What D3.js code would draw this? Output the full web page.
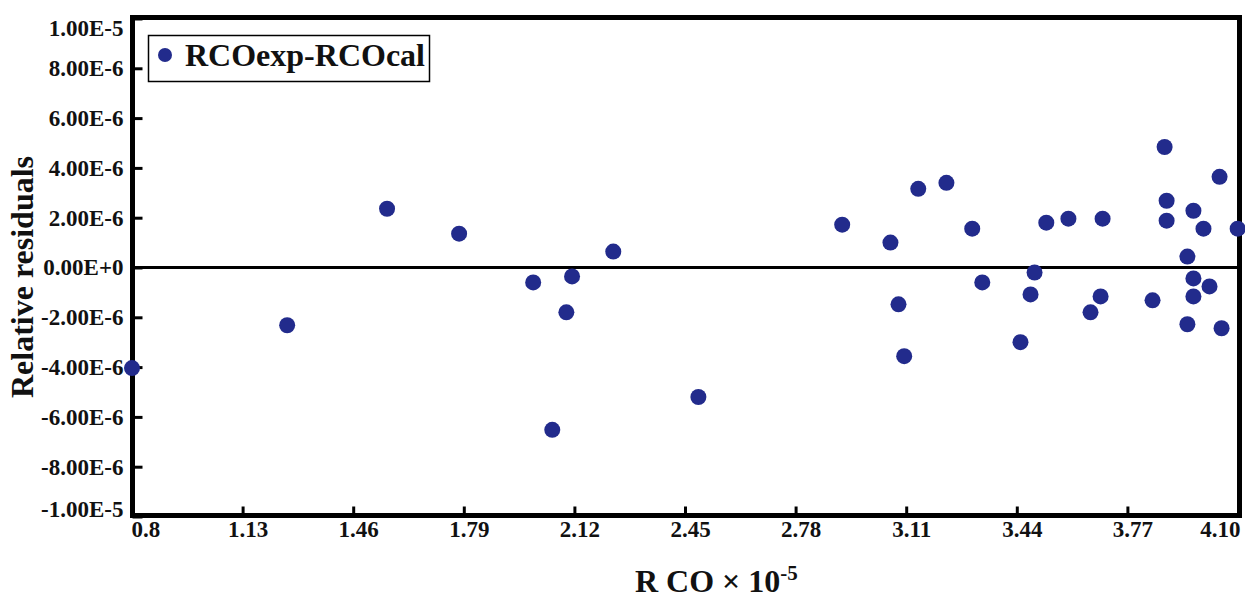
<!DOCTYPE html>
<html>
<head>
<meta charset="utf-8">
<script src="https://cdn.jsdelivr.net/npm/d3@7"></script>
<style>
  body { margin: 0; background: #fff; }
  svg text { font-family: "Liberation Serif", "Times New Roman", serif; font-weight: bold; fill: #111; }
</style>
</head>
<body>
<div class="chart"></div>
<script>
// R CO (x 10^-5) against relative residual (RCOexp - RCOcal)
var rco = [0.80, 1.263, 1.561, 1.776, 1.997, 2.054, 2.096, 2.113, 2.236, 2.49,
           2.919, 3.063, 3.087, 3.104, 3.146, 3.23, 3.307, 3.337, 3.451, 3.481,
           3.493, 3.528, 3.594, 3.66, 3.69, 3.696, 3.845, 3.881, 3.887, 3.887,
           3.949, 3.949, 3.967, 3.967, 3.967, 3.997, 4.015, 4.045, 4.051, 4.099]
var residual = [-4.04, -2.32, 2.36, 1.36, -0.6, -6.52, -1.8, -0.36, 0.64, -5.2,
                1.72, 1.0, -1.48, -3.56, 3.16, 3.4, 1.56, -0.6, -3.0, -1.08,
                -0.2, 1.8, 1.96, -1.8, -1.16, 1.96, -1.32, 4.84, 2.68, 1.88,
                0.44, -2.28, 2.28, -0.44, -1.16, 1.56, -0.76, 3.64, -2.44, 1.56].map(v => v * 1e-6)

var xTicks = [0.8, 1.13, 1.46, 1.79, 2.12, 2.45, 2.78, 3.11, 3.44, 3.77, 4.10]
var xTickLabels = ['0.8', '1.13', '1.46', '1.79', '2.12', '2.45', '2.78', '3.11', '3.44', '3.77', '4.10']
var yTicks = [1e-5, 8e-6, 6e-6, 4e-6, 2e-6, 0, -2e-6, -4e-6, -6e-6, -8e-6, -1e-5]
var yTickLabels = ['1.00E-5', '8.00E-6', '6.00E-6', '4.00E-6', '2.00E-6', '0.00E+0',
                   '-2.00E-6', '-4.00E-6', '-6.00E-6', '-8.00E-6', '-1.00E-5']
var seriesName = 'RCOexp-RCOcal'

let W = 1245, H = 598
let plot = {left: 132.5, right: 1239.5, top: 17.5, bottom: 515.5}
let dotColor = '#222b8c'

var svg = d3.select('.chart').append('svg')
    .attr('width', W)
    .attr('height', H)
    .attr('viewBox', [0, 0, W, H])

var x = d3.scaleLinear().domain([0.8, 4.1]).range([132, 1238])
var y = d3.scaleLinear().domain([-1e-5, 1e-5]).range([516.5, 18.5])

// x axis, ticks pointing up into the plot
var xAxis = svg.append('g')
    .attr('transform', 'translate(0,' + plot.bottom + ')')
    .call(d3.axisBottom(x)
        .tickValues(xTicks)
        .tickSize(-9)
        .tickPadding(5)
        .tickFormat((d, i) => xTickLabels[i]))
xAxis.select('.domain').remove()
xAxis.selectAll('.tick line').attr('stroke', '#000').attr('stroke-width', 3)
xAxis.selectAll('.tick text')
    .style('font-size', '23px')
    .attr('dx', 5)
    .attr('text-anchor', 'middle')
xAxis.selectAll('.tick').filter((d, i) => i == 0).select('text').attr('text-anchor', 'start').attr('dx', -1)
xAxis.selectAll('.tick').filter((d, i) => i == xTicks.length - 1).select('text').attr('text-anchor', 'end').attr('dx', 2)
xAxis.selectAll('.tick').filter((d, i) => i == 0 || i == xTicks.length - 1).select('line').remove()

// y axis, ticks pointing right
var yAxis = svg.append('g')
    .attr('transform', 'translate(' + plot.left + ',0)')
    .call(d3.axisLeft(y)
        .tickValues(yTicks)
        .tickSize(-10)
        .tickPadding(9)
        .tickFormat((d, i) => yTickLabels[i]))
yAxis.select('.domain').remove()
yAxis.selectAll('.tick line').attr('stroke', '#000').attr('stroke-width', 3)
yAxis.selectAll('.tick text').style('font-size', '23px')
yAxis.selectAll('.tick').filter((d, i) => i == 0).select('text').attr('dy', '0.72em')
yAxis.selectAll('.tick').filter((d, i) => i == yTicks.length - 1).select('text').attr('dy', '0.0em')

// zero line
svg.append('line')
    .attr('x1', plot.left).attr('x2', plot.right)
    .attr('y1', y(0)).attr('y2', y(0))
    .attr('stroke', '#000')
    .attr('stroke-width', 3)

// frame
svg.append('rect')
    .attr('x', plot.left).attr('y', plot.top)
    .attr('width', plot.right - plot.left)
    .attr('height', plot.bottom - plot.top)
    .attr('fill', 'none')
    .attr('stroke', '#000')
    .attr('stroke-width', 5)

var points = rco.map((d, i) => ({x: d, y: residual[i]}))
svg.append('g').selectAll('circle')
    .data(points)
        .enter()
    .append('circle')
    .attr('cx', d => x(d.x))
    .attr('cy', d => y(d.y))
    .attr('r', 8)
    .style('fill', dotColor)

// legend
var legend = svg.append('g')
legend.append('rect')
    .attr('x', 148.5).attr('y', 35.5)
    .attr('width', 281).attr('height', 46)
    .attr('fill', '#fff')
    .attr('stroke', '#000')
    .attr('stroke-width', 1.5)
legend.append('circle')
    .attr('cx', 165).attr('cy', 55)
    .attr('r', 7)
    .style('fill', dotColor)
legend.append('text')
    .attr('x', 185).attr('y', 66)
    .style('font-size', '32px')
    .text(seriesName)

// axis titles
var xTitle = svg.append('text')
    .attr('x', 635).attr('y', 592)
    .style('font-size', '32px')
xTitle.append('tspan').text('R CO × 10')
xTitle.append('tspan')
    .attr('dy', -12)
    .style('font-size', '21px')
    .text('-5')

svg.append('text')
    .attr('transform', 'translate(33,277) rotate(-90)')
    .attr('text-anchor', 'middle')
    .style('font-size', '32px')
    .text('Relative residuals')
</script>
</body>
</html>
